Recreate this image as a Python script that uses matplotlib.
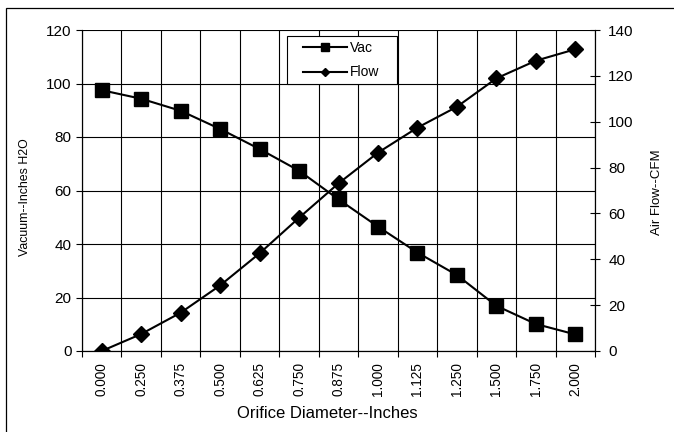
import matplotlib
matplotlib.use('Agg')
import matplotlib.pyplot as plt
from matplotlib.lines import Line2D
from matplotlib.patches import Rectangle
import numpy as np

# 数据
diam_labels = ['0.000', '0.250', '0.375', '0.500', '0.625', '0.750', '0.875',
               '1.000', '1.125', '1.250', '1.500', '1.750', '2.000']
vac = [97.5, 94.3, 89.8, 83.0, 75.5, 67.4, 56.7, 46.5, 36.8, 28.4, 16.9, 10.1, 6.2]
flow = [0.0, 7.4, 16.7, 28.6, 42.6, 58.1, 73.1, 86.5, 97.4, 106.5, 118.9, 126.6, 131.6]

plt.rcParams['font.family'] = ['Liberation Sans', 'DejaVu Sans']

fig = plt.figure(figsize=(6.74, 4.32), dpi=100)
# 外框 (只露出左边和上边)
fig.patches.append(Rectangle((6 / 674, -0.1), 1.2, 1.1 - 8 / 432,
                             transform=fig.transFigure, fill=False,
                             edgecolor='black', linewidth=0.9))

ax = fig.add_axes([82 / 674, 81 / 432, 513 / 674, 321 / 432])
x = np.arange(len(diam_labels))

ax.plot(x, vac, color='black', linewidth=1.5, marker='s', markersize=9.5,
        label='Vac', zorder=3)
ax.set_xlim(-0.5, len(diam_labels) - 0.5)
ax.set_ylim(0, 120)
ax.set_yticks(range(0, 121, 20))
ax.set_xticks(x)
ax.set_xticklabels(diam_labels, rotation=90, fontsize=9.8)
ax.set_xticks(np.arange(-0.5, len(diam_labels), 1), minor=True)
ax.tick_params(axis='x', which='major', length=0, pad=8)
ax.tick_params(axis='x', which='minor', length=4, direction='out', width=0.8)
ax.tick_params(axis='y', length=4, direction='out', width=0.8, labelsize=11)
ax.grid(True, which='minor', axis='x', color='black', linewidth=0.8)
ax.grid(True, which='major', axis='y', color='black', linewidth=0.8)
ax.set_axisbelow(True)
for s in ax.spines.values():
    s.set_linewidth(0.8)
ax.spines['top'].set_visible(False)
ax.set_ylabel('Vacuum--Inches H2O', fontsize=8.9)
ax.yaxis.set_label_coords((31 - 82) / 513, (351 - 197) / 321)
ax.set_xlabel('Orifice Diameter--Inches', fontsize=12)
ax.xaxis.set_label_coords((327 - 82) / 513, -(406 - 351) / 321)

ax2 = ax.twinx()
ax2.plot(x, flow, color='black', linewidth=1.5, marker='D', markersize=8.5,
         label='Flow', zorder=3)
ax2.set_ylim(0, 140)
ax2.set_yticks(range(0, 141, 20))
ax2.tick_params(axis='y', length=7, direction='inout', width=0.8, labelsize=11, pad=6)
for s in ax2.spines.values():
    s.set_linewidth(0.8)
ax2.spines['top'].set_visible(False)
ax2.set_ylabel('Air Flow--CFM', fontsize=9.5)
ax2.yaxis.set_label_coords((651 - 82) / 513, (351 - 192) / 321)

# 图例: 图例框单独画, 右侧留白较多
handles = [Line2D([], [], color='black', linewidth=1.5, marker='s', markersize=5.5),
           Line2D([], [], color='black', linewidth=1.5, marker='D', markersize=4.5)]
leg = ax2.legend(handles, ['Vac', 'Flow'], loc='upper left',
                 bbox_to_anchor=((303 - 82) / 513, (351 - 41) / 321),
                 borderaxespad=0, borderpad=0, fontsize=10, frameon=False,
                 handlelength=3.2, handletextpad=0.2, labelspacing=0.75)
ax2.add_patch(Rectangle(((287 - 82) / 513, (351 - 84) / 321), 110 / 513, 48 / 321,
                        transform=ax2.transAxes, facecolor='white',
                        edgecolor='black', linewidth=0.8, zorder=4))
leg.set_zorder(5)

fig.savefig('out.png', dpi=100)
